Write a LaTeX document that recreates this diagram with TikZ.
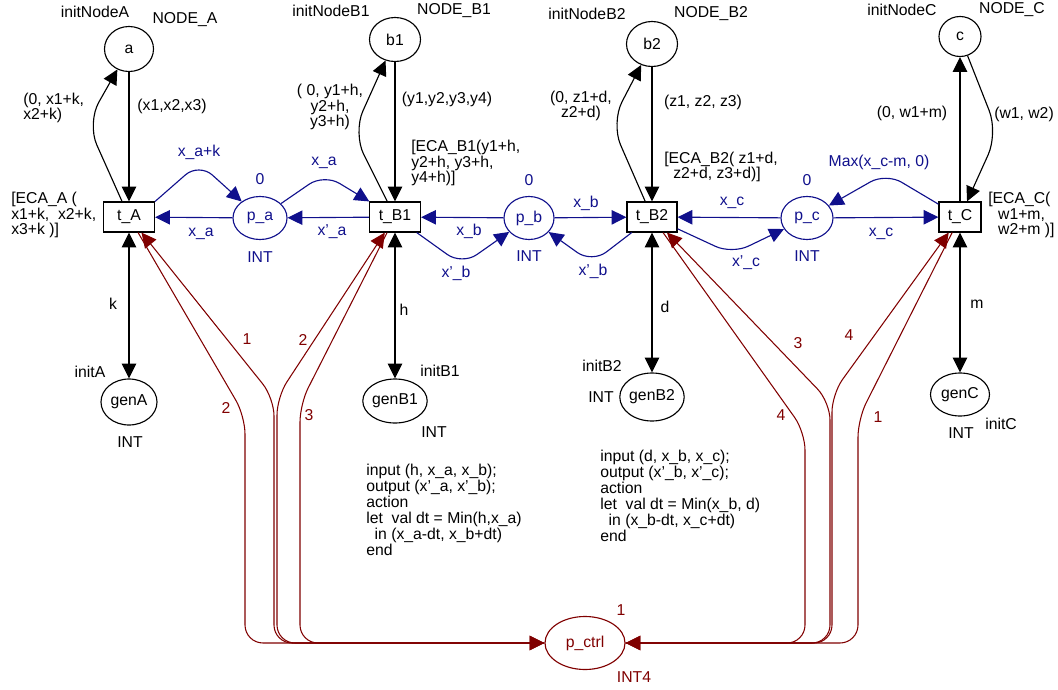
\documentclass[tikz,border=0pt]{standalone}
\usepackage{fontspec}
\setmainfont{Liberation Sans}
\usepackage{tikz}
\usetikzlibrary{arrows.meta, positioning, shapes.geometric}
\definecolor{netblue}{RGB}{16,16,140}
\definecolor{netred}{RGB}{128,0,0}

\begin{document}
\begin{tikzpicture}[
    x=0.025cm, y=-0.025cm,
    font=\fontsize{11.2}{11.2}\selectfont,
    trans/.style={draw, fill=white, line width=0.8pt, minimum height=7.5mm, inner sep=0pt},
    place/.style={draw, ellipse, line width=0.8pt, inner sep=0pt},
    bplace/.style={place, draw=netblue, text=netblue},
    rplace/.style={place, draw=netred, text=netred},
    arrow/.style={-{Triangle[length=3.7mm, width=3.6mm]}, line width=0.8pt},
    darrow/.style={{Triangle[length=3.7mm, width=3.6mm]}-{Triangle[length=3.7mm, width=3.6mm]}, line width=0.8pt},
    karrow/.style={arrow, rounded corners=6mm},
    barrow/.style={arrow, color=netblue, rounded corners=4.5mm},
    rarrow/.style={arrow, color=netred, line width=0.75pt, rounded corners=4.5mm},
    lbl/.style={inner sep=0pt},
    blbl/.style={lbl, text=netblue},
    rlbl/.style={lbl, text=netred},
    codeblk/.style={lbl, align=left, anchor=west, font=\fontsize{11.2}{11.3}\selectfont},
]
\useasboundingbox (0,0) rectangle (1058,690);

% Transitions and net places
\node[trans, minimum width=12.75mm] (tA) at (129,217) {t\_A};
\node[trans, minimum width=12.75mm] (tB1) at (395,217) {t\_B1};
\node[trans, minimum width=12.5mm] (tB2) at (652,217) {t\_B2};
\node[trans, minimum width=10.5mm] (tC) at (960,217) {t\_C};
\node[bplace, minimum width=13.5mm, minimum height=10.75mm] (pa) at (260,218) {p\_a};
\node[bplace, minimum width=12.5mm, minimum height=10.75mm] (pb) at (529,218) {p\_b};
\node[bplace, minimum width=13mm, minimum height=10.75mm] (pc) at (807,218) {p\_c};

% Node states
\node[place, minimum width=12.25mm, minimum height=11.25mm] (a) at (129,49) {a};
\node[place, minimum width=12.75mm, minimum height=11mm] (b1) at (395,39.5) {b1};
\node[place, minimum width=12.75mm, minimum height=11.25mm] (b2) at (652,44) {b2};
\node[place, minimum width=10.5mm, minimum height=10mm] (c) at (960,36.5) {c};

% Generators
\node[place, minimum width=14mm, minimum height=11.5mm] (genA) at (129,402) {genA};
\node[place, minimum width=15.25mm, minimum height=11mm] (genB1) at (395,401) {genB1};
\node[place, minimum width=16mm, minimum height=12mm] (genB2) at (652,397) {genB2};
\node[place, minimum width=14.75mm, minimum height=10.75mm] (genC) at (960,394.5) {genC};

% Control place
\node[rplace, minimum width=20mm, minimum height=13.25mm] (pctrl) at (585,643) {p\_ctrl};

% Place names and initial markings
\node[lbl] at (95,12) {initNodeA};
\node[lbl] at (185,20) {NODE\_A};
\node[lbl] at (331,11) {initNodeB1};
\node[lbl] at (454,11) {NODE\_B1};
\node[lbl] at (587,14) {initNodeB2};
\node[lbl] at (711,14) {NODE\_B2};
\node[lbl] at (902,10) {initNodeC};
\node[lbl] at (1012,10) {NODE\_C};
\node[lbl] at (90,372) {initA};
\node[lbl] at (130,442) {INT};
\node[lbl] at (440,371) {initB1};
\node[lbl] at (434,432) {INT};
\node[lbl] at (602,366) {initB2};
\node[lbl] at (601,397) {INT};
\node[lbl] at (961,433) {INT};
\node[lbl] at (1001,424) {initC};
\node[blbl] at (260,179) {0};
\node[blbl] at (260,257) {INT};
\node[blbl] at (529,180) {0};
\node[blbl] at (529,256) {INT};
\node[blbl] at (807,180) {0};
\node[blbl] at (807,256) {INT};
\node[rlbl] at (621,610) {1};
\node[rlbl] at (634,677) {INT4};

% Node state arcs
\draw[arrow] (a) -- (tA);
\draw[karrow] (tA) -- (87,123) -- (a);
\draw[arrow] (b1) -- (tB1);
\draw[karrow] (tB1) -- (353,133) -- (b1);
\draw[arrow] (b2) -- (tB2);
\draw[karrow] (tB2) -- (611,123) -- (b2);
\draw[arrow] (tC) -- (c);
\draw[karrow] (c) -- (998,133) -- (tC);
\draw[darrow] (genA) -- (tA);
\draw[darrow] (genB1) -- (tB1);
\draw[darrow] (genB2) -- (tB2);
\draw[darrow] (genC) -- (tC);

\node[lbl, align=left, anchor=west] at (23,108) {(0, x1+k,\\x2+k)};
\node[lbl] at (172,106) {(x1,x2,x3)};
\node[lbl, align=center] at (330,107) {( 0, y1+h,\\y2+h,\\y3+h)};
\node[lbl] at (447,99) {(y1,y2,y3,y4)};
\node[lbl, align=center] at (581,106) {(0, z1+d,\\z2+d)};
\node[lbl] at (703,102) {(z1, z2, z3)};
\node[lbl] at (912,113) {(0, w1+m)};
\node[lbl] at (1024,114) {(w1, w2)};
\node[lbl] at (113,304) {k};
\node[lbl] at (404,310) {h};
\node[lbl] at (665,307) {d};
\node[lbl] at (977,304) {m};

% Guards
\node[lbl, align=left, anchor=west] at (11,215) {[ECA\_A (\\x1+k,\ \ x2+k,\\x3+k )]};
\node[lbl, align=left, anchor=west] at (411,163) {[ECA\_B1(y1+h,\\y2+h, y3+h,\\y4+h)]};
\node[lbl, align=left, anchor=west] at (664,167) {[ECA\_B2( z1+d,\\\hspace{6.4pt}z2+d, z3+d)]};
\node[lbl, align=left, anchor=west] at (988,215) {[ECA\_C(\\\hspace{7pt}w1+m,\\\hspace{7pt}w2+m )]};

% Flow arcs
\draw[barrow] (tA.north east) -- (199,163) -- (pa);
\draw[barrow] (pa) -- (tA);
\draw[barrow] (pa) -- (324,174) -- (tB1);
\draw[barrow] (tB1) -- (pa);
\draw[barrow] (pb) -- (tB1);
\draw[barrow] (tB1) -- (462,265) -- (pb);
\draw[barrow] (pb) -- (tB2);
\draw[barrow] (tB2) -- (592,263) -- (pb);
\draw[barrow] (pc) -- (tB2);
\draw[barrow] (tB2) -- (732,254) -- (pc);
\draw[barrow] (pc) -- (tC);
\draw[barrow] (tC) -- (886,173) -- (pc);

\node[blbl] at (199,152) {x\_a+k};
\node[blbl] at (201,234) {x\_a};
\node[blbl] at (324,163) {x\_a};
\node[blbl] at (332,232) {x'\_a};
\node[blbl] at (469,231) {x\_b};
\node[blbl] at (456,273) {x'\_b};
\node[blbl] at (586,203) {x\_b};
\node[blbl] at (593,271) {x'\_b};
\node[blbl] at (732,203) {x\_c};
\node[blbl] at (746,263) {x'\_c};
\node[blbl] at (879,162) {Max(x\_c-m, 0)};
\node[blbl] at (881,234) {x\_c};

% Control arcs
\draw[rarrow] (pctrl.west) -- (274,643) -- (274,398) -- (tA);
\draw[rarrow] (tA) -- (245,416) -- (245,643) -- (pctrl.west);
\draw[rarrow] (pctrl.west) -- (277,643) -- (277,397) -- (tB1);
\draw[rarrow] (tB1) -- (300,404) -- (300,643) -- (pctrl.west);
\draw[rarrow] (pctrl.east) -- (830,643) -- (830,402) -- (tB2);
\draw[rarrow] (tB2) -- (805,432) -- (805,643) -- (pctrl.east);
\draw[rarrow] (pctrl.east) -- (832,643) -- (832,394) -- (tC);
\draw[rarrow] (tC) -- (858,419) -- (858,643) -- (pctrl.east);

\node[rlbl] at (247,339) {1};
\node[rlbl] at (226,408) {2};
\node[rlbl] at (303,340) {2};
\node[rlbl] at (309,415) {3};
\node[rlbl] at (798,343) {3};
\node[rlbl] at (781,415) {4};
\node[rlbl] at (849,335) {4};
\node[rlbl] at (878,417) {1};

% Transition code
\node[codeblk] (codeB1) at (366,510) {input (h, x\_a, x\_b);\\output (x'\_a, x'\_b);\\action\\let\ \ val dt = Min(h,x\_a)\\\hspace{6pt}in (x\_a-dt, x\_b+dt)\\end};
\node[codeblk] (codeB2) at (600,496) {input (d, x\_b, x\_c);\\output (x'\_b, x'\_c);\\action\\let\ \ val dt = Min(x\_b, d)\\\hspace{6pt}in (x\_b-dt, x\_c+dt)\\end};

\end{tikzpicture}
\end{document}
